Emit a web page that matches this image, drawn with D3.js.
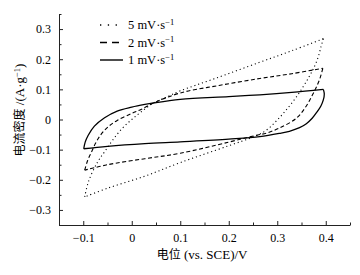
<!DOCTYPE html>
<html>
<head>
<meta charset="utf-8">
<script src="https://cdn.jsdelivr.net/npm/d3@7"></script>
<style>
  body { margin: 0; background: #fff; }
</style>
</head>
<body>
<div id="chart"></div>
<script>
// Cyclic voltammetry loops: [potential (V), current density (A/g)]
// forward branch (-0.1 -> 0.4) and reverse branch (0.4 -> -0.1)
const scan5Up = [[-0.097,-0.257],[-0.089,-0.205],[-0.07,-0.14],[-0.055,-0.105],[-0.04,-0.07],[-0.02,-0.03],[0,0.0],[0.02,0.026],[0.045,0.055],[0.07,0.073],[0.1,0.095],[0.17,0.135],[0.264,0.19],[0.33,0.228],[0.395,0.268]];
const scan5Down = [[0.395,0.268],[0.39,0.24],[0.384,0.205],[0.375,0.17],[0.365,0.14],[0.352,0.105],[0.335,0.065],[0.315,0.025],[0.298,-0.005],[0.278,-0.035],[0.255,-0.055],[0.2,-0.087],[0.1,-0.143],[0.027,-0.188],[-0.05,-0.228],[-0.097,-0.257]];

const scan2Up = [[-0.097,-0.168],[-0.091,-0.136],[-0.083,-0.108],[-0.075,-0.08],[-0.065,-0.053],[-0.05,-0.026],[-0.03,-0.003],[0,0.02],[0.02,0.034],[0.045,0.055],[0.1,0.088],[0.18,0.113],[0.264,0.136],[0.33,0.152],[0.394,0.17]];
const scan2Down = [[0.394,0.17],[0.388,0.136],[0.38,0.105],[0.373,0.083],[0.36,0.045],[0.34,0.005],[0.305,-0.028],[0.278,-0.045],[0.255,-0.053],[0.2,-0.075],[0.1,-0.112],[0.027,-0.13],[-0.05,-0.15],[-0.097,-0.168]];

const scan1Up = [[-0.099,-0.097],[-0.096,-0.075],[-0.09,-0.053],[-0.077,-0.022],[-0.056,0.006],[-0.03,0.028],[0,0.041],[0.027,0.05],[0.045,0.055],[0.1,0.067],[0.2,0.076],[0.264,0.082],[0.33,0.09],[0.395,0.1]];
const scan1Down = [[0.395,0.1],[0.397,0.085],[0.395,0.065],[0.39,0.045],[0.382,0.025],[0.372,0.004],[0.36,-0.014],[0.346,-0.027],[0.325,-0.039],[0.305,-0.046],[0.264,-0.057],[0.2,-0.065],[0.1,-0.074],[0.027,-0.08],[-0.05,-0.089],[-0.099,-0.097]];

const xMajor = [-0.1, 0, 0.1, 0.2, 0.3, 0.4];
const xMinor = [-0.15, -0.05, 0.05, 0.15, 0.25, 0.35, 0.45];
const yMajor = [-0.3, -0.2, -0.1, 0, 0.1, 0.2, 0.3];
const yMinor = [-0.35, -0.25, -0.15, -0.05, 0.05, 0.15, 0.25, 0.35];

const legendLabels = ["5 mV·s", "2 mV·s", "1 mV·s"];

const serif = "Liberation Serif";
const cjk = "Noto Sans CJK SC";

const W = 360, H = 275;
const margin = { top: 14, right: 10, bottom: 50, left: 59 };
const width = W - margin.left - margin.right;
const height = H - margin.top - margin.bottom;

const svg = d3.select("#chart").append("svg")
    .attr("width", W)
    .attr("height", H)
    .attr("font-family", serif);

const g = svg.append("g")
    .attr("transform", `translate(${margin.left}, ${margin.top})`);

const x = d3.scaleLinear().domain([-0.15, 0.45]).range([0, width]);
const y = d3.scaleLinear().domain([-0.35, 0.35]).range([height, 0]);

const fmt = d => d === 0 ? "0" : d3.format(".1f")(d);

// Axes: major ticks point inward with labels, minor ticks inward without labels
g.append("g").attr("transform", `translate(0, ${height})`)
    .call(d3.axisBottom(x).tickValues(xMajor).tickFormat(fmt).tickSize(-4).tickSizeOuter(0).tickPadding(8));
g.append("g").attr("transform", `translate(0, ${height})`)
    .call(d3.axisBottom(x).tickValues(xMinor).tickFormat("").tickSize(-2.5).tickSizeOuter(0))
    .select(".domain").remove();

g.append("g")
    .call(d3.axisLeft(y).tickValues(yMajor).tickFormat(fmt).tickSize(-4).tickSizeOuter(0).tickPadding(8));
g.append("g")
    .call(d3.axisLeft(y).tickValues(yMinor).tickFormat("").tickSize(-2.5).tickSizeOuter(0))
    .select(".domain").remove();

g.selectAll("g").attr("font-family", serif).attr("font-size", 12);
g.selectAll(".tick text").attr("font-family", serif);
g.selectAll(".domain, .tick line").attr("stroke", "#222").attr("stroke-width", 1);

// Curves
const line = d3.line()
    .x(d => x(d[0]))
    .y(d => y(d[1]))
    .curve(d3.curveCatmullRom.alpha(0.5));

const series = [
    { branches: [scan5Up, scan5Down], dash: "1.1,2.9", width: 1.1 },
    { branches: [scan2Up, scan2Down], dash: "4,2.5", width: 1.1 },
    { branches: [scan1Up, scan1Down], dash: null, width: 1.3 }
];

series.forEach(s => {
    s.branches.forEach(b => {
        g.append("path")
            .attr("d", line(b))
            .attr("fill", "none")
            .attr("stroke", "#000")
            .attr("stroke-width", s.width)
            .attr("stroke-dasharray", s.dash);
    });
});

// Legend
const legendDash = ["1.3,6.5", "7,5", null];
const legend = svg.append("g").attr("transform", "translate(100, 25)");
legendLabels.forEach((lab, i) => {
    const row = legend.append("g").attr("transform", `translate(0, ${i * 17.5})`);
    row.append("line")
        .attr("x1", 0).attr("x2", 23)
        .attr("stroke", "#000")
        .attr("stroke-width", i === 2 ? 1.4 : 1.3)
        .attr("stroke-dasharray", legendDash[i]);
    const t = row.append("text")
        .attr("x", 28)
        .attr("y", 4)
        .attr("font-family", serif)
        .attr("font-size", 12.5)
        .text(lab);
    t.append("tspan")
        .attr("dy", -4.5)
        .attr("font-size", 8.5)
        .text("−1");
});

// Axis titles: Chinese in CJK font, Latin parts in serif
const xt = svg.append("text")
    .attr("x", margin.left + x(0.145))
    .attr("y", 259)
    .attr("text-anchor", "middle")
    .attr("font-size", 12);
xt.append("tspan").attr("font-family", cjk).text("电位");
xt.append("tspan").attr("font-family", serif).attr("font-size", 13).text(" (vs. SCE)/V");

const yt = svg.append("text")
    .attr("transform", `translate(24, ${110}) rotate(-90)`)
    .attr("text-anchor", "middle")
    .attr("font-size", 12);
yt.append("tspan").attr("font-family", cjk).text("电流密度");
yt.append("tspan").attr("font-family", serif).attr("font-size", 13).text(" /(A·g");
yt.append("tspan").attr("font-family", serif).attr("dy", -4.5).attr("font-size", 8.5).text("−1");
yt.append("tspan").attr("font-family", serif).attr("font-size", 13).attr("dy", 4.5).text(")");
</script>
</body>
</html>
